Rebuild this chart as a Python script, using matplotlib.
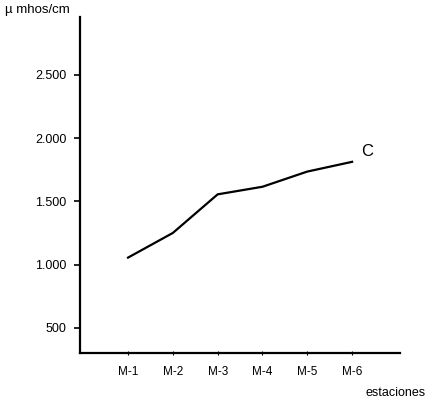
import matplotlib
matplotlib.use("Agg")
import matplotlib.pyplot as plt

estaciones = ["M-1", "M-2", "M-3", "M-4", "M-5", "M-6"]
conductividad = [1055, 1250, 1555, 1615, 1735, 1812]
yticks = [500, 1000, 1500, 2000, 2500]
ytick_labels = ["500", "1.000", "1.500", "2.000", "2.500"]

plt.rcParams["font.family"] = ["Liberation Sans", "DejaVu Sans"]

fig = plt.figure(figsize=(4.26, 4.01), dpi=100)
ax = fig.add_axes([0.188, 0.12, 0.751, 0.838])

xs = list(range(1, len(estaciones) + 1))
ax.plot(xs, conductividad, color="black", linewidth=1.6)
ax.text(xs[-1] + 0.2, conductividad[-1] + 20, "C", fontsize=12, ha="left", va="bottom")

ax.set_xlim(-0.07, 7.07)
ax.set_ylim(302, 2958)
ax.set_xticks(xs)
ax.set_xticklabels(estaciones, fontsize=8.5)
ax.set_yticks(yticks)
ax.set_yticklabels(ytick_labels, fontsize=9)

for side in ("top", "right"):
    ax.spines[side].set_visible(False)
for side in ("left", "bottom"):
    ax.spines[side].set_linewidth(1.6)

ax.tick_params(axis="y", direction="out", length=4, width=1.2, pad=6)
ax.tick_params(axis="x", direction="inout", length=3, width=0.8, pad=8)

fig.text(0.012, 0.975, "µ mhos/cm", fontsize=9.5, ha="left", va="center")
fig.text(0.998, 0.02, "estaciones", fontsize=9, ha="right", va="center")

fig.savefig("out.png", dpi=100)
